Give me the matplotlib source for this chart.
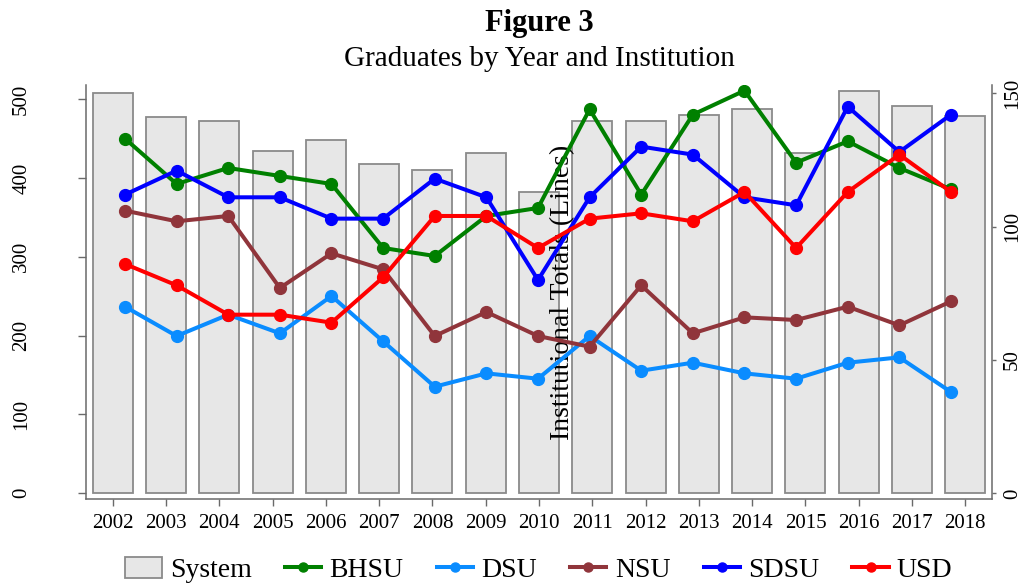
import matplotlib
matplotlib.use("Agg")
import matplotlib.pyplot as plt
from matplotlib.lines import Line2D
from matplotlib.patches import Patch

# ---------------- data ----------------
years = list(range(2002, 2019))
system = [508, 477, 473, 435, 448, 418, 410, 432, 382, 473, 472, 480, 488, 432, 510, 491, 479]
bhsu = [133, 116, 122, 119, 116, 92, 89, 104, 107, 144, 112, 142, 151, 124, 132, 122, 114]
dsu = [70, 59, 67, 60, 74, 57, 40, 45, 43, 59, 46, 49, 45, 43, 49, 51, 38]
nsu = [106, 102, 104, 77, 90, 84, 59, 68, 59, 55, 78, 60, 66, 65, 70, 63, 72]
sdsu = [112, 121, 111, 111, 103, 103, 118, 111, 80, 111, 130, 127, 111, 108, 145, 128, 142]
usd = [86, 78, 67, 67, 64, 81, 104, 104, 92, 103, 105, 102, 113, 92, 113, 127, 113]

series_names = ["BHSU", "DSU", "NSU", "SDSU", "USD"]
series_values = [bhsu, dsu, nsu, sdsu, usd]
series_colors = ["#008000", "#0a8cff", "#90353b", "#0000ff", "#ff0000"]

left_ticks = [0, 100, 200, 300, 400, 500]
right_ticks = [0, 50, 100, 150]

# ---------------- style ----------------
plt.rcParams["font.family"] = ["Liberation Serif", "DejaVu Serif"]
spine_col = "#6a6a6a"
bar_fill = "#e7e7e7"
bar_edge = "#8a8a8a"

W, H = 1024, 585
fig = plt.figure(figsize=(W / 100, H / 100), dpi=100)

L, R, T, B = 86, 992, 85, 499
rect = [L / W, 1 - B / H, (R - L) / W, (B - T) / H]

# bars (left axis)
ax = fig.add_axes(rect)
ax.bar(years, system, width=0.75, color=bar_fill, edgecolor=bar_edge,
       linewidth=1.3, zorder=1, label="System")
ax.set_xlim(2001.5, 2018.5)
ax.set_ylim(-7.6, 518.2)
ax.set_xticks(years)
ax.set_xticklabels([str(y) for y in years])
ax.set_yticks(left_ticks)
ax.set_yticklabels([str(v) for v in left_ticks])
for s in ["top", "right"]:
    ax.spines[s].set_visible(False)
for s in ["left", "bottom"]:
    ax.spines[s].set_color(spine_col)
    ax.spines[s].set_linewidth(1.1)
ax.tick_params(axis="x", length=5, width=1, color=spine_col, pad=6, labelsize=15)
ax.tick_params(axis="y", length=5.5, width=1, color=spine_col, pad=34,
               labelsize=15, labelrotation=90)
for lab in ax.get_yticklabels():
    lab.set_verticalalignment("center")

# lines (right axis, own horizontal placement)
ax2 = fig.add_axes(rect)
ax2.patch.set_visible(False)
for nm, vals, col in zip(series_names, series_values, series_colors):
    ax2.plot(years, vals, color=col, lw=2.9, marker="o", ms=8.5, zorder=3,
             solid_capstyle="round", label=nm)
ax2.set_xlim(2001.2446, 2018.7942)
ax2.set_ylim(-2.1, 153.1)
ax2.xaxis.set_visible(False)
ax2.yaxis.tick_right()
ax2.yaxis.set_label_position("right")
ax2.set_yticks(right_ticks)
ax2.set_yticklabels([str(v) for v in right_ticks])
for s in ["top", "left", "bottom"]:
    ax2.spines[s].set_visible(False)
ax2.spines["right"].set_color(spine_col)
ax2.spines["right"].set_linewidth(1.1)
ax2.tick_params(axis="y", length=3, width=1, color=spine_col, pad=5,
                labelsize=15, labelrotation=90)
for lab in ax2.get_yticklabels():
    lab.set_verticalalignment("center")
ax2.set_ylabel("Institutional Totals (Lines)", fontsize=20)
ax2.yaxis.set_label_coords((563 - L) / (R - L), 0.5)
ax2.yaxis.label.set_verticalalignment("center")
ax2.yaxis.label.set_horizontalalignment("center")

# titles
cx = ((L + R) / 2) / W
fig.text(cx, 1 - 31 / H, "Figure 3", ha="center", va="baseline",
         fontsize=22, fontweight="bold")
fig.text(cx, 1 - 66 / H, "Graduates by Year and Institution", ha="center",
         va="baseline", fontsize=21)

# legend
handles = [Patch(facecolor=bar_fill, edgecolor=bar_edge, linewidth=1.3)]
labels = ["System"]
for nm, col in zip(series_names, series_colors):
    handles.append(Line2D([], [], color=col, lw=2.9, marker="o", ms=6.5))
    labels.append(nm)
fig.legend(handles, labels, loc="center", bbox_to_anchor=(cx, 1 - 570 / H),
           ncol=6, frameon=False, fontsize=20, handlelength=1.3,
           handletextpad=0.3, columnspacing=1.2, handleheight=0.8,
           borderaxespad=0, borderpad=0)

fig.savefig("out.png", dpi=100)
